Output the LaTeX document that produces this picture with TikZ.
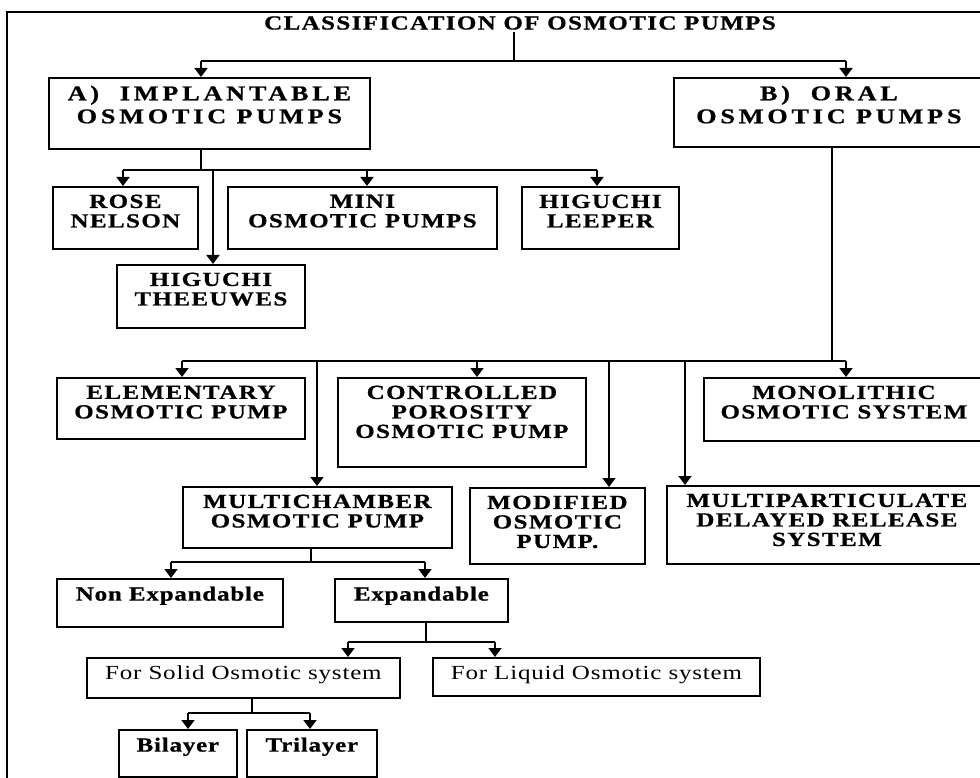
\documentclass[tikz,border=0pt]{standalone}
\usepackage{fontspec}
\setmainfont{Liberation Serif}
\newfontfamily\boxfont[FakeStretch=1.25,LetterSpace=7,BoldFeatures={FakeBold=0.8}]{Liberation Serif}
\newfontfamily\bigboxfont[FakeStretch=1.25,LetterSpace=18,BoldFeatures={FakeBold=0.8}]{Liberation Serif}
\newfontfamily\lowboxfont[FakeStretch=1.25,LetterSpace=4,BoldFeatures={FakeBold=0.8}]{Liberation Serif}
\usetikzlibrary{arrows.meta}
\tikzset{
  bx/.style 2 args={draw,line width=1.8pt,rectangle,inner sep=0pt,anchor=north west,
    minimum width=#1,minimum height=#2},
  txt/.style={anchor=north,inner sep=0pt,yshift=-8.5pt,align=center},
  captxt/.style={txt,font=\boxfont\bfseries\fontsize{20}{19.5}\selectfont},
  bigtxt/.style={txt,font=\bigboxfont\bfseries\fontsize{21}{23}\selectfont},
  boldtxt/.style={txt,font=\lowboxfont\bfseries\fontsize{20}{19.5}\selectfont},
  plaintxt/.style={txt,font=\lowboxfont\fontsize{20}{19.5}\selectfont},
  ttl/.style={inner sep=2pt,font=\boxfont\bfseries\fontsize{20}{19.5}\selectfont},
  ln/.style={line width=1.6pt},
  arr/.style={ln,-{Triangle[width=13pt,length=9pt]}}
}

\begin{document}
\begin{tikzpicture}[x=1pt,y=-1pt]
      \useasboundingbox (0,0) rectangle (980,778);
      % 枠とタイトル
      \draw[line width=2.4pt] (7,790) -- (7,12) -- (990,12);
      \node[ttl] (title) at (520,23) {CLASSIFICATION OF OSMOTIC PUMPS};

      % ノードの定義
      \node[bx={321pt}{71pt},label={[bigtxt]north:{A)\ \ IMPLANTABLE\\OSMOTIC PUMPS}}] (impl) at (48,77) {};
      \node[bx={310pt}{69pt},label={[bigtxt]north:{B)\ \ ORAL\\OSMOTIC PUMPS}}] (oral) at (673,77) {};

      \node[bx={145pt}{62pt},label={[captxt]north:{ROSE\\NELSON}}] (rose) at (52,186) {};
      \node[bx={269pt}{62pt},label={[captxt]north:{MINI\\OSMOTIC PUMPS}}] (mini) at (227,186) {};
      \node[bx={157pt}{62pt},label={[captxt]north:{HIGUCHI\\LEEPER}}] (leeper) at (521,186) {};
      \node[bx={188pt}{63pt},label={[captxt]north:{HIGUCHI\\THEEUWES}}] (theeuwes) at (116,264) {};

      \node[bx={248pt}{61pt},label={[captxt]north:{ELEMENTARY\\OSMOTIC PUMP}}] (elem) at (56,377) {};
      \node[bx={248pt}{89pt},label={[captxt]north:{CONTROLLED\\POROSITY\\OSMOTIC PUMP}}] (ctrl) at (337,377) {};
      \node[bx={280pt}{63pt},label={[captxt]north:{MONOLITHIC\\OSMOTIC SYSTEM}}] (mono) at (703,377) {};
      \node[bx={269pt}{61pt},label={[captxt]north:{MULTICHAMBER\\OSMOTIC PUMP}}] (multi) at (182,486) {};
      \node[bx={175pt}{76pt},label={[captxt]north:{MODIFIED\\OSMOTIC\\PUMP.}}] (modif) at (469,487) {};
      \node[bx={320pt}{78pt},label={[captxt]north:{MULTIPARTICULATE\\DELAYED RELEASE\\SYSTEM}}] (mpart) at (666,485) {};

      \node[bx={226pt}{48pt},label={[boldtxt]north:{Non Expandable}}] (nonexp) at (56,578) {};
      \node[bx={173pt}{43pt},label={[boldtxt]north:{Expandable}}] (exp) at (334,578) {};
      \node[bx={313pt}{40pt},label={[plaintxt]north:{For Solid Osmotic system}}] (solid) at (86,657) {};
      \node[bx={327pt}{38pt},label={[plaintxt]north:{For Liquid Osmotic system}}] (liquid) at (432,657) {};
      \node[bx={118pt}{47pt},label={[boldtxt]north:{Bilayer}}] (bi) at (118,729) {};
      \node[bx={130pt}{47pt},label={[boldtxt]north:{Trilayer}}] (tri) at (246,729) {};

      % 辺の定義
      \coordinate (t0) at (514,61);
      \coordinate (ta) at (201,61);
      \coordinate (tb) at (846,61);
      \draw[ln] (t0 |- title.south) -- (t0);
      \draw[ln] (ta) -- (tb);
      \draw[arr] (ta) -- (ta |- impl.north);
      \draw[arr] (tb) -- (tb |- oral.north);

      \coordinate (i0) at (201,170);
      \coordinate (i1) at (123,170);
      \coordinate (i2) at (213,170);
      \coordinate (i3) at (367,170);
      \coordinate (i4) at (597,170);
      \draw[ln] (i0 |- impl.south) -- (i0);
      \draw[ln] (i1) -- (i4);
      \draw[arr] (i1) -- (i1 |- rose.north);
      \draw[arr] (i2) -- (i2 |- theeuwes.north);
      \draw[arr] (i3) -- (i3 |- mini.north);
      \draw[arr] (i4) -- (i4 |- leeper.north);

      \coordinate (o0) at (832,361);
      \coordinate (o1) at (182,361);
      \coordinate (o2) at (317,361);
      \coordinate (o3) at (477,361);
      \coordinate (o4) at (609,361);
      \coordinate (o5) at (685,361);
      \coordinate (o6) at (846,361);
      \draw[ln] (o0 |- oral.south) -- (o0);
      \draw[ln] (o1) -- (o6);
      \draw[arr] (o1) -- (o1 |- elem.north);
      \draw[arr] (o2) -- (o2 |- multi.north);
      \draw[arr] (o3) -- (o3 |- ctrl.north);
      \draw[arr] (o4) -- (o4 |- modif.north);
      \draw[arr] (o5) -- (o5 |- mpart.north);
      \draw[arr] (o6) -- (o6 |- mono.north);

      \coordinate (m0) at (311,562);
      \coordinate (m1) at (171,562);
      \coordinate (m2) at (425,562);
      \draw[ln] (m0 |- multi.south) -- (m0);
      \draw[ln] (m1) -- (m2);
      \draw[arr] (m1) -- (m1 |- nonexp.north);
      \draw[arr] (m2) -- (m2 |- exp.north);

      \coordinate (e0) at (426,642);
      \coordinate (e1) at (348,642);
      \coordinate (e2) at (495,642);
      \draw[ln] (e0 |- exp.south) -- (e0);
      \draw[ln] (e1) -- (e2);
      \draw[arr] (e1) -- (e1 |- solid.north);
      \draw[arr] (e2) -- (e2 |- liquid.north);

      \coordinate (s0) at (252,713);
      \coordinate (s1) at (188,713);
      \coordinate (s2) at (310,713);
      \draw[ln] (s0 |- solid.south) -- (s0);
      \draw[ln] (s1) -- (s2);
      \draw[arr] (s1) -- (s1 |- bi.north);
      \draw[arr] (s2) -- (s2 |- tri.north);
    \end{tikzpicture}
\end{document}
